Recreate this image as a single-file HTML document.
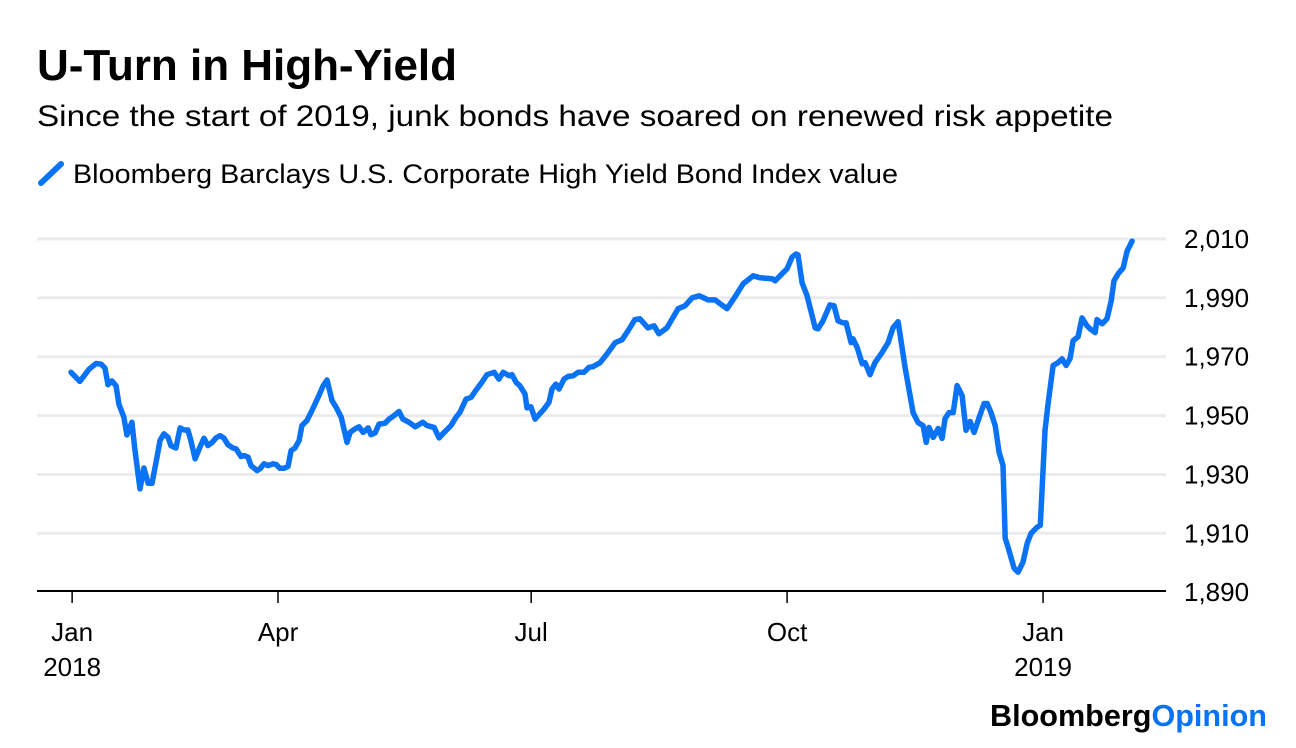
<!DOCTYPE html>
<html><head><meta charset="utf-8"><style>
html,body{margin:0;padding:0;background:#fff;}
svg{display:block;font-family:"Liberation Sans",Arial,sans-serif;}
</style></head><body>
<svg id="chart" width="1296" height="748" viewBox="0 0 1296 748">
<text x="37" y="80" font-size="44" font-weight="bold" fill="#000" textLength="420">U-Turn in High-Yield</text>
<text x="37" y="126" font-size="30" fill="#000" textLength="1076" lengthAdjust="spacingAndGlyphs">Since the start of 2019, junk bonds have soared on renewed risk appetite</text>
<g>
<line x1="41" y1="183" x2="61" y2="164" stroke="#0a72f5" stroke-width="6" stroke-linecap="round"/>
<text x="73" y="183" font-size="26.5" fill="#000" textLength="825" lengthAdjust="spacingAndGlyphs">Bloomberg Barclays U.S. Corporate High Yield Bond Index value</text>
</g>
<g id="grid"></g>
<g id="yticks"></g>
<g id="xaxis"></g>
<g id="series"></g>
<g>
<text x="990" y="726" font-size="31" font-weight="bold" textLength="277" lengthAdjust="spacingAndGlyphs"><tspan fill="#000">Bloomberg</tspan><tspan fill="#0a72f5">Opinion</tspan></text>
</g>
</svg>
<script>
const days = [15.6,18.8,22.1,24.6,26.4,27.8,28.9,30.3,31.8,32.8,34.6,35.7,37.5,38.6,40.4,41.8,43.3,44.7,46.5,47.6,49.0,50.5,51.5,53.3,54.8,56.2,57.6,58.7,60.2,61.9,63.4,64.8,66.3,67.7,69.2,70.6,72.0,73.8,74.9,76.7,77.8,79.2,80.3,82.5,83.5,85.0,86.4,88.2,89.3,90.7,92.2,93.6,94.7,96.1,97.6,98.6,100.4,102.2,104.4,106.2,107.6,109.4,110.9,112.7,113.7,114.8,115.9,117.7,119.1,120.6,122.4,123.4,124.9,126.3,128.5,129.9,131.7,133.5,134.9,137.1,139.3,142.1,143.6,146.1,147.9,149.7,152.2,154.0,155.4,157.6,159.4,161.2,163.3,165.1,167.7,169.4,170.9,173.1,174.1,175.6,177.0,178.8,179.5,180.9,182.4,185.6,187.4,188.5,189.9,191.0,192.8,194.3,196.1,197.9,200.0,201.8,203.2,205.8,208.3,211.2,213.7,215.8,218.3,220.1,223.0,225.2,226.9,229.8,233.8,236.3,238.8,241.4,244.6,247.1,248.9,251.4,254.3,257.2,260.8,263.3,267.6,268.7,271.2,273.0,274.8,276.2,276.9,278.4,280.2,283.1,284.1,285.9,288.4,289.9,291.3,293.1,294.2,296.0,296.7,298.2,300.0,301.0,302.8,304.6,307.1,309.3,311.1,312.9,315.4,318.3,320.1,321.9,323.0,324.0,325.5,327.3,328.7,329.8,331.2,332.7,334.1,335.9,337.3,338.8,340.2,342.0,343.8,344.9,346.3,347.8,349.2,350.6,351.4,352.4,354.6,356.0,357.8,359.3,360.7,362.9,364.0,365.7,366.8,368.6,370.4,371.8,373.3,374.7,375.8,377.6,379.0,380.8,381.9,383.7,384.4,386.3,388.0,389.5,390.5,392.0,393.8,395.2,397.0];
const values = [1964.7,1961.6,1965.8,1967.7,1967.5,1966.1,1960.5,1961.8,1960.1,1953.9,1949.4,1943.4,1947.7,1938.1,1925.1,1932.2,1927.0,1927.0,1935.9,1941.5,1943.8,1942.6,1939.8,1939.0,1945.8,1945.1,1945.1,1941.5,1935.3,1939.2,1942.3,1939.8,1940.9,1942.4,1943.2,1942.3,1940.1,1939.0,1938.7,1936.1,1936.4,1935.9,1933.0,1931.3,1931.9,1933.6,1933.0,1933.6,1933.4,1932.1,1932.1,1932.7,1938.1,1939.0,1941.5,1946.6,1948.3,1951.7,1956.2,1960.1,1962.1,1955.1,1952.8,1949.4,1945.5,1940.9,1944.3,1945.5,1946.2,1944.3,1945.8,1943.5,1944.1,1947.1,1947.4,1948.8,1950.0,1951.4,1948.8,1947.7,1946.2,1947.7,1946.6,1946.0,1942.4,1944.3,1946.6,1949.4,1951.1,1955.6,1956.2,1958.7,1961.3,1963.9,1964.7,1962.4,1964.7,1963.5,1963.9,1961.3,1960.1,1957.3,1952.6,1953.0,1948.8,1952.2,1954.5,1959.0,1960.7,1959.0,1962.4,1963.3,1963.5,1964.7,1964.7,1966.4,1966.6,1968.0,1971.0,1974.8,1975.8,1978.8,1982.6,1982.9,1979.8,1980.5,1977.8,1979.8,1986.3,1987.3,1990.0,1990.7,1989.3,1989.3,1988.0,1986.3,1990.4,1994.8,1997.5,1996.8,1996.5,1995.8,1998.2,1999.9,2003.9,2004.9,2004.6,1995.1,1990.7,1979.8,1979.5,1982.2,1987.6,1987.3,1982.2,1981.5,1981.5,1974.8,1976.1,1973.1,1967.6,1968.0,1963.9,1968.0,1971.4,1974.8,1979.9,1981.9,1966.3,1951.0,1947.6,1946.6,1940.9,1946.0,1942.6,1945.6,1942.2,1949.0,1951.0,1951.0,1960.2,1956.8,1945.0,1948.0,1944.3,1949.3,1954.1,1954.1,1951.0,1946.6,1937.5,1933.1,1908.3,1905.3,1898.1,1896.8,1900.2,1906.6,1910.0,1912.1,1912.7,1944.9,1954.1,1967.0,1968.0,1969.3,1967.0,1969.3,1975.4,1976.8,1983.2,1980.5,1979.5,1978.2,1982.6,1981.2,1982.9,1989.0,1995.8,1998.2,2000.2,2005.9,2009.3];
const yTicks = [2010,1990,1970,1950,1930,1910,1890];
const yTickLabels = ["2,010","1,990","1,970","1,950","1,930","1,910","1,890"];
const xTickDays = [16,90,181,273,365];
const xTickMonths = ["Jan","Apr","Jul","Oct","Jan"];
const xTickYears = ["2018","","","","2019"];

const NS = "http://www.w3.org/2000/svg";
function xScale(d){ return 278 + (d - 90) * 2.782; }
function yScale(v){ return 239 + (2010 - v) * 2.943; }
function mk(tag, attrs, parent){ const e = document.createElementNS(NS, tag); for (const k in attrs) e.setAttribute(k, attrs[k]); parent.appendChild(e); return e; }

const grid = document.getElementById('grid');
const yg = document.getElementById('yticks');
yTicks.forEach((t, i) => {
  if (t !== 1890) {
    const gl = mk('line', {x1: 37, x2: 1166, y1: yScale(t), y2: yScale(t), stroke: '#ebebeb', 'stroke-width': 3}, grid);
    
    
  }
  const lb = mk('text', {x: 1184, y: yScale(t) + 9, 'font-size': 26, fill: '#000'}, yg);
  lb.textContent = yTickLabels[i];
  
  
});

const xg = document.getElementById('xaxis');
const axis = mk('line', {x1: 37, x2: 1166, y1: 591, y2: 591, stroke: '#000', 'stroke-width': 2}, xg);


xTickDays.forEach((d, i) => {
  const x = xScale(d);
  const tk = mk('line', {x1: x, x2: x, y1: 591, y2: 603, stroke: '#000', 'stroke-width': 1.5}, xg);
  
  
  const m = mk('text', {x: x, y: 641, 'font-size': 26, 'text-anchor': 'middle', fill: '#000'}, xg);
  m.textContent = xTickMonths[i];
  
  
  if (xTickYears[i]) {
    const y = mk('text', {x: x, y: 676, 'font-size': 26, 'text-anchor': 'middle', fill: '#000'}, xg);
    y.textContent = xTickYears[i];
    
    
  }
});

const sg = document.getElementById('series');
const pts = days.map((d, i) => xScale(d).toFixed(1) + ',' + yScale(values[i]).toFixed(1)).join(' ');
const pl = mk('polyline', {points: pts, fill: 'none', stroke: '#0a72f5', 'stroke-width': 5.5, 'stroke-linejoin': 'round', 'stroke-linecap': 'round'}, sg);


</script>
</body></html>
